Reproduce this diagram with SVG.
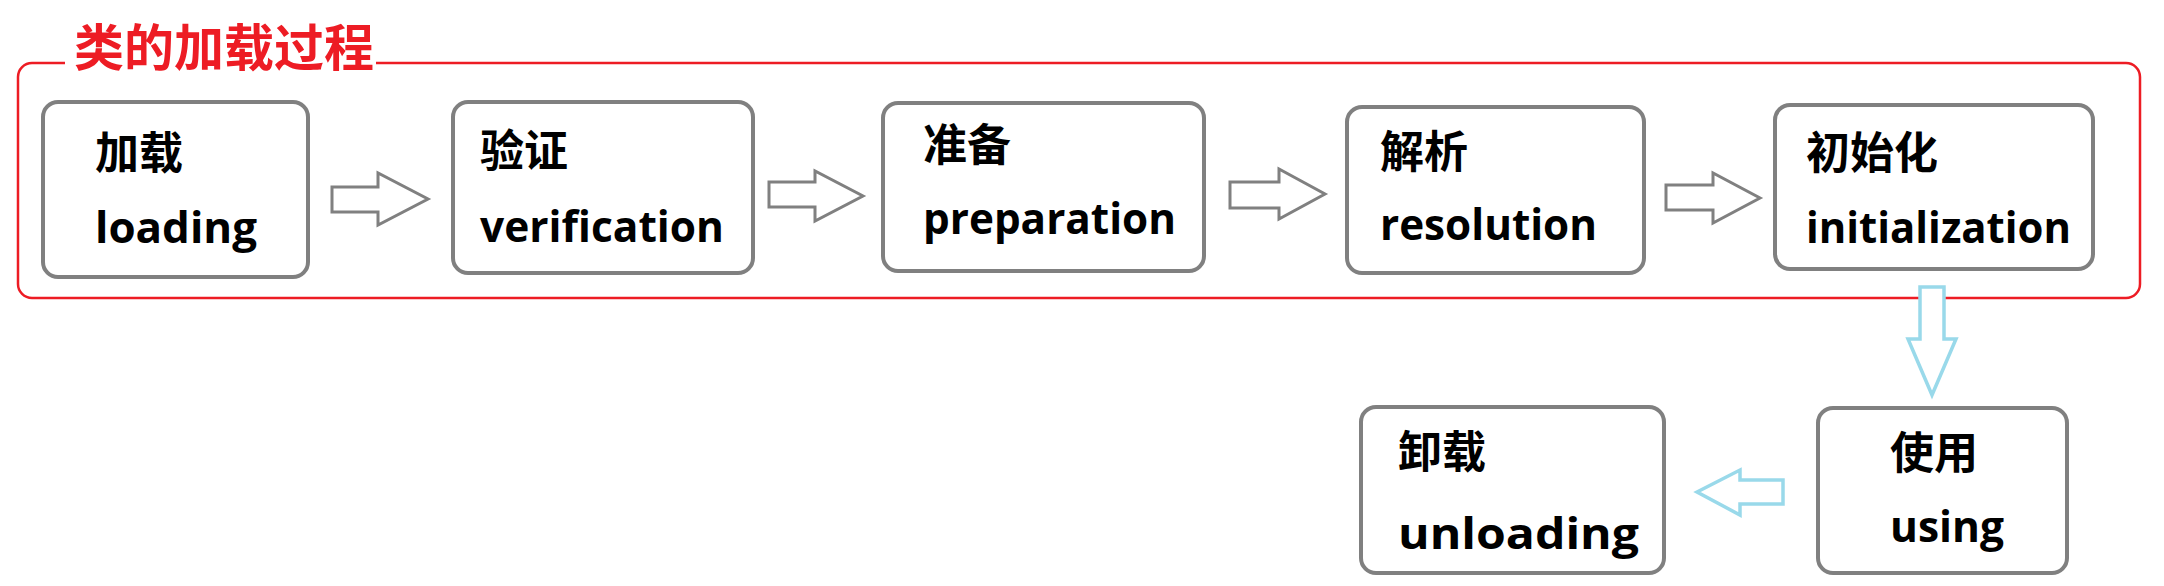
<svg xmlns="http://www.w3.org/2000/svg" width="2164" height="586" viewBox="0 0 2164 586">
<style>
.box{fill:#fff;stroke:#808080;stroke-width:4}
.cn{font-family:"Noto Sans CJK SC","Noto Sans",sans-serif;font-weight:bold;font-size:44px;fill:#000}
.en{font-family:"Open Sans","Noto Sans",sans-serif;font-weight:bold;font-size:43px;fill:#000}
.garrow{fill:#fff;stroke:#808080;stroke-width:3;stroke-linejoin:miter}
.barrow{fill:#fff;stroke:#99D9EA;stroke-width:3.5;stroke-linejoin:miter}
</style>
<rect width="2164" height="586" fill="#fff"/>
<g id="frame">
<path d="M376,63 H2126 A14,14 0 0 1 2140,77 V284 A14,14 0 0 1 2126,298 H32 A14,14 0 0 1 18,284 V77 A14,14 0 0 1 32,63 H65" fill="none" stroke="#ED1C24" stroke-width="2.5"/>
<text x="74" y="66" font-family="Noto Sans CJK SC, sans-serif" font-weight="bold" font-size="50" fill="#ED1C24">类的加载过程</text>
</g>
<g id="loading">
<rect class="box" x="43" y="102" width="265" height="175" rx="15"/>
<text class="cn" x="95" y="169">加载</text>
<text class="en" x="95" y="243" textLength="162" lengthAdjust="spacingAndGlyphs">loading</text>
</g>
<g id="verification">
<rect class="box" x="453" y="102" width="300" height="171" rx="15"/>
<text class="cn" x="480" y="167">验证</text>
<text class="en" x="480" y="242" textLength="244" lengthAdjust="spacingAndGlyphs">verification</text>
</g>
<g id="preparation">
<rect class="box" x="883" y="103" width="321" height="168" rx="15"/>
<text class="cn" x="923" y="161">准备</text>
<text class="en" x="923" y="234" textLength="253" lengthAdjust="spacingAndGlyphs">preparation</text>
</g>
<g id="resolution">
<rect class="box" x="1347" y="107" width="297" height="166" rx="15"/>
<text class="cn" x="1380" y="168">解析</text>
<text class="en" x="1380" y="240" textLength="217" lengthAdjust="spacingAndGlyphs">resolution</text>
</g>
<g id="initialization">
<rect class="box" x="1775" y="105" width="318" height="164" rx="15"/>
<text class="cn" x="1806" y="169">初始化</text>
<text class="en" x="1806" y="243" textLength="265" lengthAdjust="spacingAndGlyphs">initialization</text>
</g>
<g id="unloading">
<rect class="box" x="1361" y="407" width="303" height="166" rx="15"/>
<text class="cn" x="1398" y="468">卸载</text>
<text class="en" x="1398" y="549" textLength="241" lengthAdjust="spacingAndGlyphs">unloading</text>
</g>
<g id="using">
<rect class="box" x="1818" y="408" width="249" height="165" rx="15"/>
<text class="cn" x="1890" y="469">使用</text>
<text class="en" x="1890" y="542" textLength="114" lengthAdjust="spacingAndGlyphs">using</text>
</g>
<g id="connectors">
<polygon class="garrow" points="332,187 378,187 378,173 428,199 378,225 378,212 332,212"/>
<polygon class="garrow" points="769,182 815,182 815,171 863,196 815,221 815,207 769,207"/>
<polygon class="garrow" points="1230,182 1279,182 1279,169 1325,194 1279,219 1279,208 1230,208"/>
<polygon class="garrow" points="1666,185 1713,185 1713,173 1760,198 1713,223 1713,210 1666,210"/>
<polygon class="barrow" points="1920,287 1944,287 1944,339 1956,339 1932,395 1908,339 1920,339"/>
<polygon class="barrow" points="1783,480 1740,480 1740,470 1697,492 1740,515 1740,504 1783,504"/>
</g>
</svg>
